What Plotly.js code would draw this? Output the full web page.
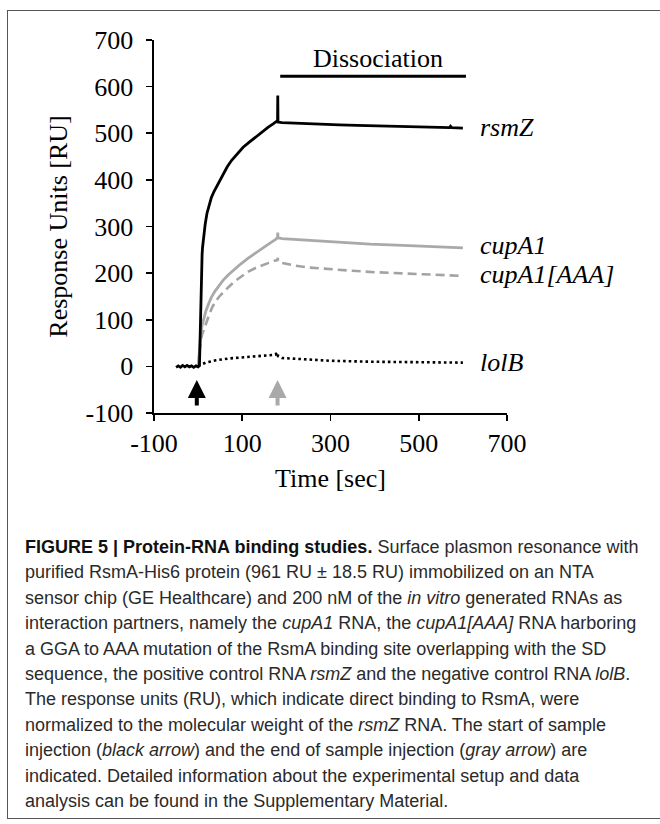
<!DOCTYPE html>
<html>
<head>
<meta charset="utf-8">
<script src="https://cdn.plot.ly/plotly-3.0.1.min.js"></script>
<style>
  html, body { margin:0; padding:0; background:#fff; overflow:hidden; }
  #wrap { position:relative; width:660px; height:824px; overflow:hidden; }
  #chart { position:absolute; left:0; top:0; width:660px; height:824px; }
  #frame { position:absolute; left:7px; top:10px; width:720px; height:809px; border:1.5px solid #555; pointer-events:none; box-sizing:border-box; }
  #caption { position:absolute; left:25px; top:535px; font-family:"Liberation Sans", Arial, sans-serif; font-size:18px; line-height:25.4px; color:#2a2a2a; white-space:nowrap; }
  #caption b { color:#111; }
</style>
</head>
<body>
<div id="wrap">
  <div id="chart"></div>
  <div id="frame"></div>
  <div id="caption">
    <b>FIGURE 5 | Protein-RNA binding studies.</b> Surface plasmon resonance with<br>
    purified RsmA-His6 protein (961 RU ± 18.5 RU) immobilized on an NTA<br>
    sensor chip (GE Healthcare) and 200 nM of the <i>in vitro</i> generated RNAs as<br>
    interaction partners, namely the <i>cupA1</i> RNA, the <i>cupA1[AAA]</i> RNA harboring<br>
    a GGA to AAA mutation of the RsmA binding site overlapping with the SD<br>
    sequence, the positive control RNA <i>rsmZ</i> and the negative control RNA <i>lolB</i>.<br>
    The response units (RU), which indicate direct binding to RsmA, were<br>
    normalized to the molecular weight of the <i>rsmZ</i> RNA. The start of sample<br>
    injection (<i>black arrow</i>) and the end of sample injection (<i>gray arrow</i>) are<br>
    indicated. Detailed information about the experimental setup and data<br>
    analysis can be found in the Supplementary Material.
  </div>
</div>
<script>
// ---------------- data ----------------
const rsmZTime = [-50,-45,-40,-35,-30,-25,-20,-15,-10,-5,0,3,4,5,6,7,8,9,10,12,14,16,20,25,30,36,42,50,57,66,76,88,102,116,130,145,159,170,180,180.5,181,190,210,240,280,320,360,400,440,480,520,560,570,572,575,600];
const rsmZValue = [-2,1,-2,2,-1,2,-1,1,-2,1,-1,2,40,100,150,190,218,240,255,275,291,305,328,348,362,375,386,400,414,428,442,456,470,481,492,503,513,520,527,581,524,523,522,521,519,518,517,516,515,514,514,513,512,515,512,511];

const cupA1Time = [0,2,4,6,9,13,18,24,30,38,46,56,68,82,97,112,128,145,162,175,180,180.5,181,190,220,250,300,350,390,450,500,550,600];
const cupA1Value = [0,25,50,70,88,104,120,135,148,161,172,184,196,208,220,231,242,253,264,272,276,287,276,274,272,270,267,264,262,260,258,256,254];

const cupA1AAATime = [0,2,4,6,9,13,18,24,32,40,50,60,72,85,100,115,130,145,160,175,180,180.5,181,190,220,250,300,350,400,450,500,550,600];
const cupA1AAAValue = [0,20,40,55,68,80,95,108,127,140,152,162,173,184,195,204,211,217,222,227,228,233,227,222,216,212,208,205,202,200,198,196,194];

const lolBTime = [0,5,17,40,70,100,130,155,175,180,181,190,220,250,300,390,450,500,550,600];
const lolBValue = [0,3,8,13,17,19,22,24,25,30,22,18,16,14,12,10,9,9,8,8];

const seriesNames = ['rsmZ','cupA1','cupA1[AAA]','lolB'];
const labelTime = 635;
const labelValues = [513, 260, 196, 8];

const xTickVals = [-100,100,300,500,700];
const xTickText = ['-100','100','300','500','700'];
const yTickVals = [-100,0,100,200,300,400,500,600,700];
const yTickText = ['-100','0','100','200','300','400','500','600','700'];

const injectionArrowTimes = [-3, 180];
const arrowColors = ['#000000', '#a9a9a9'];
const arrowTip = -29, arrowTail = -87;

const dissociationSpan = [186, 607];
const dissociationLevel = 622;
const dissociationLabel = {text:'Dissociation', t:408, v:661};

// ---------------- traces ----------------
const serif = '"Liberation Serif", "Times New Roman", serif';
const traces = [
  {x:cupA1AAATime, y:cupA1AAAValue, name:seriesNames[2], mode:'lines', line:{color:'#a3a3a3', width:2.6, dash:'9px,5px'}},
  {x:cupA1Time, y:cupA1Value, name:seriesNames[1], mode:'lines', line:{color:'#a9a9a9', width:2.8}},
  {x:lolBTime, y:lolBValue, name:seriesNames[3], mode:'lines', line:{color:'#000', width:2.6, dash:'2.6px,3px'}},
  {x:rsmZTime, y:rsmZValue, name:seriesNames[0], mode:'lines', line:{color:'#000', width:2.8}}
];

const annotations = [];
seriesNames.forEach((n,i)=>{
  annotations.push({x:labelTime, y:labelValues[i], xref:'x', yref:'y', text:'<i>'+n+'</i>', showarrow:false, xanchor:'left', yanchor:'middle', font:{family:serif, size:26, color:'#000'}});
});
injectionArrowTimes.forEach((t,i)=>{
  annotations.push({x:t, y:arrowTip, ax:t, ay:arrowTail, xref:'x', yref:'y', axref:'x', ayref:'y', text:'', showarrow:true, arrowhead:2, arrowsize:0.9, arrowwidth:4, arrowcolor:arrowColors[i]});
});
annotations.push({x:dissociationLabel.t, y:dissociationLabel.v, xref:'x', yref:'y', text:dissociationLabel.text, showarrow:false, font:{family:serif, size:26, color:'#000'}});

const shapes = [
  {type:'line', xref:'x', yref:'y', x0:dissociationSpan[0], x1:dissociationSpan[1], y0:dissociationLevel, y1:dissociationLevel, line:{color:'#000', width:3}}
];

const axisCommon = {showline:true, linecolor:'#000', linewidth:1.6, ticks:'outside', ticklen:6, tickwidth:1.6, tickcolor:'#000', showgrid:false, zeroline:false, fixedrange:true, tickfont:{family:serif, size:26, color:'#000'}};

const layout = {
  width:660, height:824,
  margin:{l:154, r:153, t:40, b:411, pad:0},
  paper_bgcolor:'#fff', plot_bgcolor:'#fff',
  showlegend:false,
  font:{family:serif, size:26, color:'#000'},
  xaxis:Object.assign({}, axisCommon, {range:[-100,700], tickmode:'array', tickvals:xTickVals, ticktext:xTickText, title:{text:'Time [sec]', font:{family:serif, size:26, color:'#000'}, standoff:12}}),
  yaxis:Object.assign({}, axisCommon, {range:[-100,700], tickmode:'array', tickvals:yTickVals, ticktext:yTickText, ticklabelstandoff:8, title:{text:'Response Units [RU]', font:{family:serif, size:26, color:'#000'}, standoff:10}}),
  annotations:annotations,
  shapes:shapes
};

Plotly.newPlot('chart', traces, layout, {staticPlot:true, displayModeBar:false});
</script>
</body>
</html>
